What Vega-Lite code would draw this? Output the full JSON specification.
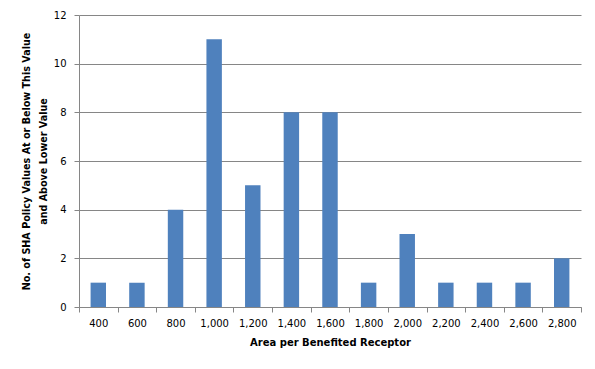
{
  "$schema": "https://vega.github.io/schema/vega-lite/v6.json",
  "width": 502,
  "height": 292,
  "autosize": "none",
  "padding": {"left": 79, "top": 15, "right": 14, "bottom": 62},
  "background": "white",
  "config": {
    "view": {"stroke": null},
    "font": "DejaVu Sans",
    "axis": {
      "labelFont": "DejaVu Sans",
      "labelFontSize": 10,
      "labelColor": "#000000",
      "titleFont": "DejaVu Sans",
      "titleFontSize": 10,
      "titleFontWeight": "bold",
      "titleColor": "#000000",
      "domainColor": "#868686",
      "tickColor": "#868686",
      "gridColor": "#868686",
      "tickSize": 5
    }
  },
  "data": {
    "values": [
      {"area": "400", "count": 1},
      {"area": "600", "count": 1},
      {"area": "800", "count": 4},
      {"area": "1,000", "count": 11},
      {"area": "1,200", "count": 5},
      {"area": "1,400", "count": 8},
      {"area": "1,600", "count": 8},
      {"area": "1,800", "count": 1},
      {"area": "2,000", "count": 3},
      {"area": "2,200", "count": 1},
      {"area": "2,400", "count": 1},
      {"area": "2,600", "count": 1},
      {"area": "2,800", "count": 2}
    ]
  },
  "mark": {"type": "bar", "color": "#4F81BD", "width": {"band": 0.4}},
  "encoding": {
    "x": {
      "field": "area",
      "type": "ordinal",
      "sort": null,
      "scale": {"paddingInner": 0, "paddingOuter": 0},
      "axis": {
        "title": "Area per Benefited Receptor",
        "labelAngle": 0,
        "tickBand": "extent",
        "labelPadding": 6,
        "titlePadding": 9,
        "grid": false
      }
    },
    "y": {
      "field": "count",
      "type": "quantitative",
      "scale": {"domain": [0, 12], "nice": false},
      "axis": {
        "title": ["No. of SHA Policy Values At or Below This Value", "and Above Lower Value"],
        "values": [0, 2, 4, 6, 8, 10, 12],
        "grid": true,
        "labelPadding": 8,
        "titlePadding": 5,
        "titleFontSize": 9.6,
        "titleLineHeight": 17
      }
    }
  }
}
